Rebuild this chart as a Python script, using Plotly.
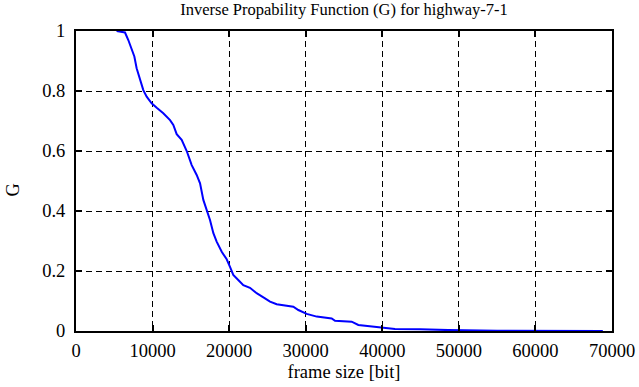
import plotly.graph_objects as go

frame_size = [5300, 6400, 6830, 7270, 7620, 7920, 8360, 8790, 9230, 9880, 10540, 11400,
              12280, 12710, 13150, 13800, 14460, 15110, 15760, 16200, 16630, 17060, 17500,
              17940, 18370, 19030, 19680, 20110, 20540, 21190, 21850, 22720, 23590, 24680,
              25340, 26210, 28380, 29040, 30130, 31440, 33390, 33830, 36000, 36870, 39700,
              41660, 44920, 48620, 55000, 68800]
g_values = [1.0, 0.995, 0.97, 0.937, 0.915, 0.876, 0.837, 0.803, 0.781, 0.759, 0.744, 0.726,
            0.703, 0.687, 0.656, 0.637, 0.600, 0.553, 0.520, 0.492, 0.437, 0.403, 0.370,
            0.326, 0.298, 0.264, 0.239, 0.214, 0.187, 0.170, 0.153, 0.144, 0.126, 0.109,
            0.098, 0.089, 0.081, 0.070, 0.057, 0.048, 0.042, 0.034, 0.031, 0.020, 0.012,
            0.007, 0.006, 0.003, 0.001, 0.0]

x_ticks = [0, 10000, 20000, 30000, 40000, 50000, 60000, 70000]
y_ticks = [0, 0.2, 0.4, 0.6, 0.8, 1]
y_tick_labels = ["0", "0.2", "0.4", "0.6", "0.8", "1"]

font_family = "Liberation Serif"
fsize = 18.5

fig = go.Figure()
fig.add_trace(go.Scatter(x=frame_size, y=g_values, mode="lines",
                         line=dict(color="#0000ff", width=2), showlegend=False))

axis_common = dict(showline=True, linecolor="black", linewidth=2, mirror="ticks",
                   ticks="inside", ticklen=6, tickwidth=2, tickcolor="black",
                   showgrid=True, gridcolor="black", gridwidth=1, griddash="6px,4px",
                   zeroline=False, automargin=False,
                   tickfont=dict(family=font_family, size=fsize, color="black"))

fig.update_xaxes(range=[0, 70000], tickvals=x_ticks, ticktext=[str(v) for v in x_ticks],
                 ticklabelstandoff=2,
                 title=dict(text="frame size [bit]", font=dict(family=font_family, size=fsize, color="black"), standoff=5),
                 **axis_common)
fig.update_yaxes(range=[0, 1], tickvals=y_ticks, ticktext=y_tick_labels,
                 ticklabelstandoff=5,
                 **axis_common)

fig.update_layout(
    width=639, height=387,
    margin=dict(l=76, r=27, t=31, b=56, autoexpand=False),
    paper_bgcolor="white", plot_bgcolor="white",
    font=dict(family=font_family, size=fsize, color="black"),
    title=dict(text="Inverse Propability Function (G) for highway-7-1",
               x=0.5, xanchor="center", xref="paper", y=1 - 9 / 387, yanchor="middle",
               automargin=False,
               font=dict(family=font_family, size=16.5, color="black")),
    annotations=[dict(text="G", textangle=-90, showarrow=False,
                      xref="paper", yref="paper", x=(12.5 - 76) / 536, y=(331 - 190) / 300,
                      xanchor="center", yanchor="middle",
                      font=dict(family=font_family, size=fsize, color="black"))],
)

fig.write_html("out.html", config={"displayModeBar": False},
               post_script="document.body.style.margin='0';document.body.style.overflow='hidden';")
